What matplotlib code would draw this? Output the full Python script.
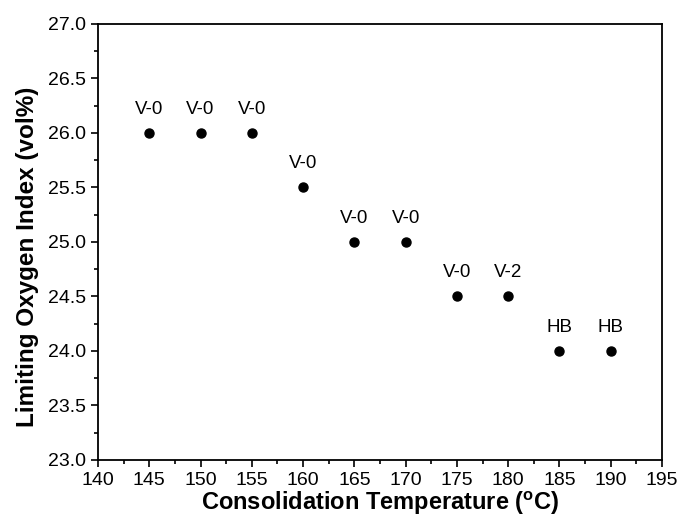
import matplotlib
matplotlib.use("Agg")
import matplotlib.pyplot as plt
from matplotlib.ticker import MultipleLocator, FormatStrFormatter

plt.rcParams['font.family'] = ['Liberation Sans', 'DejaVu Sans']
plt.rcParams['mathtext.fontset'] = 'custom'
plt.rcParams['mathtext.rm'] = 'Liberation Sans'
plt.rcParams['mathtext.bf'] = 'Liberation Sans:bold'

temperatures = [145, 150, 155, 160, 165, 170, 175, 180, 185, 190]
loi = [26.0, 26.0, 26.0, 25.5, 25.0, 25.0, 24.5, 24.5, 24.0, 24.0]
ratings = ["V-0", "V-0", "V-0", "V-0", "V-0", "V-0", "V-0", "V-2", "HB", "HB"]

fig = plt.figure(figsize=(6.8, 5.18), dpi=100)
ax = fig.add_axes([0.1441, 0.112, 0.8294, 0.8417])

ax.plot(temperatures, loi, 'o', color='black', markersize=6.5, linestyle='none')
for x, y, r in zip(temperatures, loi, ratings):
    ax.annotate(r, (x, y), xytext=(0, 11), textcoords='offset points',
                ha='center', va='bottom', fontsize=13.5)

ax.set_xlim(140, 195)
ax.set_ylim(23.0, 27.0)
ax.xaxis.set_major_locator(MultipleLocator(5))
ax.xaxis.set_minor_locator(MultipleLocator(2.5))
ax.yaxis.set_major_locator(MultipleLocator(0.5))
ax.yaxis.set_minor_locator(MultipleLocator(0.25))
ax.yaxis.set_major_formatter(FormatStrFormatter('%.1f'))

ax.tick_params(which='major', direction='out', length=5, width=1.2, labelsize=14)
ax.tick_params(which='minor', direction='out', length=3, width=1.2)
for s in ax.spines.values():
    s.set_linewidth(1.3)

ax.set_xlabel(r'Consolidation Temperature ($\mathbf{^o}$C)', fontsize=17,
              fontweight='bold', labelpad=1)
ax.set_ylabel('Limiting Oxygen Index (vol%)', fontsize=17.5, fontweight='bold')
ax.yaxis.set_label_coords(-0.105, 0.466)

fig.savefig('out.png', dpi=100)
